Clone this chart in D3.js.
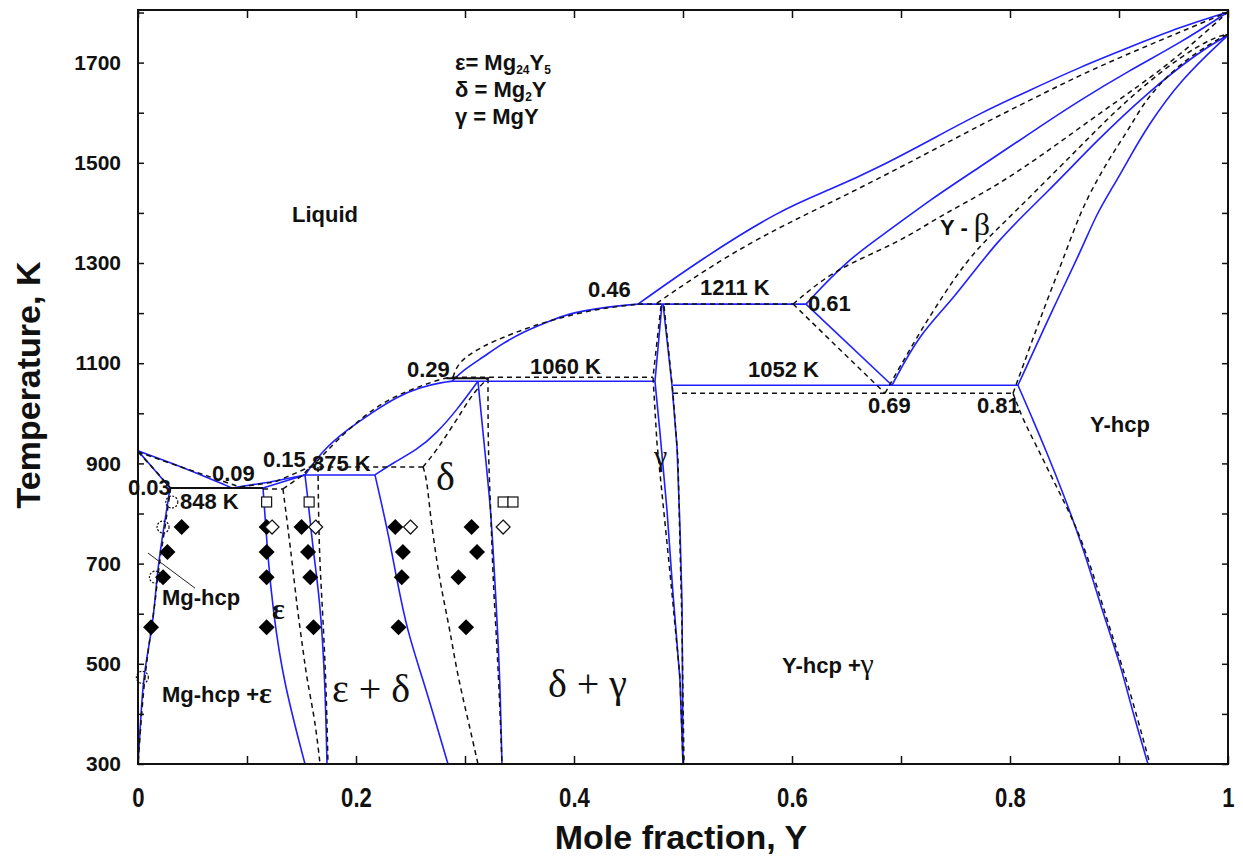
<!DOCTYPE html>
<html>
<head>
<meta charset="utf-8">
<script src="https://cdn.jsdelivr.net/npm/d3@7"></script>
<style>
body { margin: 0; background: #fff; }
text { font-family: "Liberation Sans", Arial, sans-serif; font-weight: bold; fill: #111; }
.serif { font-family: "Liberation Serif", "Times New Roman", serif; font-weight: normal; }
</style>
</head>
<body>
<svg id="chart" width="1243" height="857"></svg>
<script>
//===============================================
//------------------ DATA -----------------------
//===============================================
// [mole fraction Y, temperature K]

// --- solid blue calculation ---
var liqMgBlue      = [[0,925],[0.0431,891],[0.0862,851]];
var liqEpsBlue     = [[0.0862,851],[0.1211,863],[0.1532,877]];
var liqDeltaBlue   = [[0.1532,877],[0.1697,927],[0.1917,967],[0.2156,1003],[0.2376,1033],[0.2587,1052],[0.2798,1062],[0.2881,1064]];
var liqGamBlue     = [[0.2881,1064],[0.2982,1086],[0.3165,1112],[0.3349,1140],[0.3532,1162],[0.3752,1182],[0.3963,1200],[0.4211,1209],[0.4422,1215],[0.4587,1218]];
var liqYBlue       = [[0.4587,1218],[0.5156,1306],[0.589,1406],[0.6349,1446],[0.6807,1492],[0.7266,1545],[0.7725,1599],[0.8183,1645],[0.8642,1691],[0.9101,1731],[0.956,1771],[1,1801]];
var solBetaBlue    = [[0.6128,1218],[0.6505,1306],[0.6899,1366],[0.7266,1426],[0.7725,1492],[0.8183,1559],[0.8642,1625],[0.9101,1685],[0.956,1739],[1,1801]];
var betaHcpBlue    = [[0.6917,1056],[0.7174,1160],[0.7477,1226],[0.7881,1346],[0.8339,1440],[0.8798,1545],[0.9257,1639],[0.9716,1719],[1,1755]];
var hcpBetaBlue    = [[0.8073,1056],[0.8431,1226],[0.8642,1320],[0.8798,1400],[0.8945,1452],[0.9101,1512],[0.9257,1571],[0.956,1665],[1,1755]];
var hcpSolvusBlue  = [[0.8073,1056],[0.8211,987],[0.8339,921],[0.8486,841],[0.867,733],[0.8853,601],[0.9009,502],[0.9128,402],[0.9266,300]];
var betaGamBlue    = [[0.6128,1218],[0.6917,1056]];
var gamLeftBlue    = [[0.4807,1218],[0.4743,1064],[0.4789,961],[0.4853,807],[0.4908,641],[0.4972,468],[0.5,300]];
var gamRightBlue   = [[0.4817,1218],[0.4899,1056],[0.4945,933],[0.4972,773],[0.4991,621],[0.5,300]];
var deltaTopBlue   = [[0.2174,877],[0.2339,901],[0.256,927],[0.2743,961],[0.2927,1007],[0.3119,1064]];
var deltaLeftBlue  = [[0.2174,877],[0.2284,773],[0.2376,667],[0.2468,567],[0.2615,468],[0.2725,388],[0.2844,300]];
var deltaRightBlue = [[0.3119,1064],[0.3165,961],[0.3229,827],[0.3257,733],[0.3294,587],[0.3321,468],[0.3339,300]];
var epsTopBlue     = [[0.1147,851],[0.1532,877]];
var epsLeftBlue    = [[0.1147,851],[0.1193,707],[0.1239,607],[0.133,468],[0.1532,300]];
var epsRightBlue   = [[0.1532,877],[0.156,827],[0.1606,727],[0.167,627],[0.1716,468],[0.1734,300]];
var mgSolidusBlue  = [[0,925],[0.014,890],[0.0294,851]];
var mgSolvusBlue   = [[0.0294,851],[0.0229,761],[0.0183,693],[0.0156,627],[0.0128,567],[0.0046,474],[0.0018,362],[0,300]];
var iso1211Blue    = [[0.4587,1218],[0.6128,1218]];
var iso1060Blue    = [[0.2881,1064],[0.4743,1064]];
var iso1052Blue    = [[0.4908,1056],[0.8073,1056]];
var iso875Blue     = [[0.1514,877],[0.2174,877]];

// --- dashed black calculation ---
var liqMgDash      = [[0,923],[0.0339,897],[0.0661,873],[0.0936,853]];
var liqEpsDash     = [[0.0936,853],[0.1257,863],[0.1578,893]];
var epsTopDash     = [[0.133,849],[0.1514,877],[0.1578,893]];
var liqDeltaDash   = [[0.1578,893],[0.1642,903],[0.1826,947],[0.2064,993],[0.2248,1021],[0.2431,1041],[0.2615,1056],[0.2798,1070],[0.289,1072]];
var liqGamDash     = [[0.289,1072],[0.2936,1102],[0.3138,1132],[0.344,1160],[0.378,1186],[0.4239,1210],[0.4606,1218]];
var liqYDash       = [[0.4761,1220],[0.5339,1306],[0.589,1372],[0.6349,1420],[0.6807,1470],[0.7266,1522],[0.7725,1575],[0.8183,1625],[0.8642,1675],[0.9101,1719],[0.956,1761],[1,1801]];
var solBetaDash    = [[0.601,1218],[0.6128,1240],[0.6422,1290],[0.6972,1340],[0.7358,1394],[0.7817,1446],[0.8275,1512],[0.8734,1585],[0.9193,1655],[0.956,1715],[1,1801]];
var betaHcpDash    = [[0.6853,1040],[0.7128,1146],[0.7358,1226],[0.7606,1306],[0.7844,1360],[0.8092,1412],[0.8339,1466],[0.8642,1532],[0.8945,1599],[0.9257,1659],[0.956,1711],[0.9862,1750],[1,1757]];
var hcpBetaDash    = [[0.8028,1040],[0.8339,1226],[0.8486,1306],[0.8642,1400],[0.8798,1466],[0.8945,1520],[0.9101,1571],[0.9257,1631],[0.956,1699],[0.9899,1746],[1,1757]];
var hcpSolvusDash  = [[0.8028,1040],[0.8119,987],[0.8248,933],[0.8394,867],[0.855,801],[0.8706,721],[0.889,587],[0.9073,468],[0.9284,300]];
var betaGamDash    = [[0.601,1218],[0.6853,1040]];
var gamLeftDash    = [[0.4798,1214],[0.4725,1072],[0.4761,941],[0.4807,841],[0.4881,681],[0.4972,474],[0.5,300]];
var gamRightDash   = [[0.4826,1214],[0.4908,1040],[0.4954,907],[0.4972,741],[0.4991,573],[0.5009,300]];
var deltaTopDash   = [[0.2615,893],[0.2743,927],[0.2862,967],[0.2982,1007],[0.3073,1040],[0.3211,1070]];
var deltaLeftDash  = [[0.2615,893],[0.2651,867],[0.2679,801],[0.2743,701],[0.2798,633],[0.2862,567],[0.2927,482],[0.3028,388],[0.3119,300]];
var deltaRightDash = [[0.3211,1070],[0.3211,927],[0.3239,793],[0.3257,667],[0.3294,534],[0.3321,408],[0.3339,300]];
var epsLeftDash    = [[0.133,849],[0.1413,707],[0.1459,613],[0.1514,528],[0.155,468],[0.1624,388],[0.167,300]];
var epsRightDash   = [[0.1651,893],[0.1661,727],[0.1688,627],[0.1725,468],[0.1743,300]];
var mgSolidusDash  = [[0,923],[0.015,888],[0.03,851]];
var mgSolvusDash   = [[0.03,851],[0.024,761],[0.019,693],[0.016,627],[0.012,567],[0.006,474],[0.002,362],[0,300]];
var iso1211Dash    = [[0.4587,1218],[0.601,1218]];
var iso1060Dash    = [[0.289,1072],[0.4725,1072]];
var iso1052Dash    = [[0.4908,1040],[0.8028,1040]];
var iso891Dash     = [[0.158,893],[0.2615,893]];
var iso848Dash     = [[0.1147,849],[0.133,849]];

// --- thin solid black lines ---
var iso848Solid    = [[0.0294,851],[0.1147,851]];
var iso1060Solid   = [[0.283,1070],[0.3222,1070]];
var mgPointer      = [[0.0092,721],[0.0523,651]];

// --- experimental points ---
var filledDiamonds = [[0.040,773],[0.027,723],[0.023,673],[0.012,573],
	[0.118,773],[0.150,773],[0.118,723],[0.156,723],[0.118,673],[0.158,673],[0.118,573],[0.161,573],
	[0.236,773],[0.243,723],[0.242,673],[0.239,573],
	[0.306,773],[0.311,723],[0.294,673],[0.301,573]];
var openDiamonds   = [[0.123,773],[0.163,773],[0.250,773],[0.335,773]];
var openSquares    = [[0.118,823],[0.157,823],[0.335,823],[0.344,823]];
var openCircles    = [[0.031,823],[0.023,773],[0.016,673],[0.004,473]];

// --- axis ticks ---
var xTicks = [0,0.1,0.2,0.3,0.4,0.5,0.6,0.7,0.8,0.9,1];
var xTickLabels = ['0','','0.2','','0.4','','0.6','','0.8','','1'];
var yTicks = [300,400,500,600,700,800,900,1000,1100,1200,1300,1400,1500,1600,1700,1800];
var yTickLabels = ['300','','500','','700','','900','','1100','','1300','','1500','','1700',''];

// --- labels: [x, T, text] ---
var plainLabels = [
	[0.1413,1382,'Liquid'],
	[0.4128,1232,'0.46'],
	[0.5156,1236,'1211 K'],
	[0.6147,1204,'0.61'],
	[0.2468,1072,'0.29'],
	[0.3596,1078,'1060 K'],
	[0.5596,1072,'1052 K'],
	[0.6697,1001,'0.69'],
	[0.7697,1001,'0.81'],
	[0.8734,963,'Y-hcp'],
	[0.1147,893,'0.15'],
	[0.1596,885,'875 K'],
	[0.0679,865,'0.09'],
	[-0.0092,837,'0.03'],
	[0.0385,809,'848 K'],
	[0.022,617,'Mg-hcp'],
	[0.022,424,'Mg-hcp +'],
	[0.5908,482,'Y-hcp +']
];
// [x, T, text, size, bold]
var greekLabels = [
	[0.2734,847,'δ',40,0],
	[0.4734,895,'γ',30,0],
	[0.1229,589,'ε',30,1],
	[0.1109,421,'ε',30,1],
	[0.178,424,'ε + δ',40,0],
	[0.3761,434,'δ + γ',40,0],
	[0.6628,479,'γ',30,0]
];
var legendRows = [1685, 1631, 1577];

//===============================================
//------------------ DRAW -----------------------
//===============================================
var svg = d3.select('#chart');

var x = d3.scaleLinear().domain([0, 1]).range([138, 1228]);
var y = d3.scaleLinear().domain([300, 1805]).range([764, 10]);

var straight = d3.line()
	.x(function (d) { return x(d[0]); })
	.y(function (d) { return y(d[1]); });
var smooth = d3.line()
	.curve(d3.curveBasis)
	.x(function (d) { return x(d[0]); })
	.y(function (d) { return y(d[1]); });

// curves that are drawn smoothed, the rest are polylines
var smoothSet = [liqMgBlue, liqDeltaBlue, liqGamBlue, liqYBlue, solBetaBlue, betaHcpBlue, hcpBetaBlue, hcpSolvusBlue,
	deltaTopBlue, deltaLeftBlue, deltaRightBlue, epsLeftBlue, epsRightBlue, mgSolvusBlue,
	liqMgDash, liqDeltaDash, liqGamDash, liqYDash, solBetaDash, betaHcpDash, hcpBetaDash, hcpSolvusDash,
	deltaTopDash, deltaLeftDash, deltaRightDash, epsLeftDash, epsRightDash, mgSolvusDash];

function pathOf(d) {
	return smoothSet.indexOf(d) >= 0 ? smooth(d) : straight(d);
}

var plot = svg.append('g');

var blueLines = [liqMgBlue, liqEpsBlue, liqDeltaBlue, liqGamBlue, liqYBlue, solBetaBlue, betaHcpBlue, hcpBetaBlue,
	hcpSolvusBlue, betaGamBlue, gamLeftBlue, gamRightBlue, deltaTopBlue, deltaLeftBlue, deltaRightBlue,
	epsTopBlue, epsLeftBlue, epsRightBlue, mgSolidusBlue, mgSolvusBlue, iso1211Blue, iso1060Blue,
	iso1052Blue, iso875Blue];

var dashLines = [liqMgDash, liqEpsDash, epsTopDash, liqDeltaDash, liqGamDash, liqYDash, solBetaDash,
	betaHcpDash, hcpBetaDash, hcpSolvusDash, betaGamDash, gamLeftDash, gamRightDash, deltaTopDash,
	deltaLeftDash, deltaRightDash, epsLeftDash, epsRightDash, mgSolidusDash, mgSolvusDash,
	iso1211Dash, iso1060Dash, iso1052Dash, iso891Dash, iso848Dash];

var solidLines = [iso848Solid, iso1060Solid];

plot.selectAll('path.blue').data(blueLines).enter().append('path')
	.attr('class', 'blue')
	.attr('d', pathOf)
	.attr('fill', 'none')
	.attr('stroke', '#1f1fff')
	.attr('stroke-width', 1.6);

plot.selectAll('path.dash').data(dashLines).enter().append('path')
	.attr('class', 'dash')
	.attr('d', pathOf)
	.attr('fill', 'none')
	.attr('stroke', '#111')
	.attr('stroke-width', 1.5)
	.attr('stroke-dasharray', '5,4');

plot.selectAll('path.solid').data(solidLines).enter().append('path')
	.attr('class', 'solid')
	.attr('d', straight)
	.attr('fill', 'none')
	.attr('stroke', '#111')
	.attr('stroke-width', 2);

plot.append('path')
	.attr('d', straight(mgPointer))
	.attr('fill', 'none')
	.attr('stroke', '#222')
	.attr('stroke-width', 1);

// markers
function diamond(d, r) {
	var cx = x(d[0]), cy = y(d[1]);
	return 'M' + cx + ',' + (cy - r) + 'L' + (cx + r) + ',' + cy + 'L' + cx + ',' + (cy + r) + 'L' + (cx - r) + ',' + cy + 'Z';
}

plot.selectAll('path.fd').data(filledDiamonds).enter().append('path')
	.attr('class', 'fd')
	.attr('d', function (d) { return diamond(d, 8); })
	.attr('fill', '#000');

plot.selectAll('path.od').data(openDiamonds).enter().append('path')
	.attr('class', 'od')
	.attr('d', function (d) { return diamond(d, 7); })
	.attr('fill', '#fff')
	.attr('stroke', '#111')
	.attr('stroke-width', 1.2);

plot.selectAll('rect.sq').data(openSquares).enter().append('rect')
	.attr('class', 'sq')
	.attr('x', function (d) { return x(d[0]) - 5; })
	.attr('y', function (d) { return y(d[1]) - 5; })
	.attr('width', 10)
	.attr('height', 10)
	.attr('fill', '#fff')
	.attr('stroke', '#111')
	.attr('stroke-width', 1.2);

plot.selectAll('circle.oc').data(openCircles).enter().append('circle')
	.attr('class', 'oc')
	.attr('cx', function (d) { return x(d[0]); })
	.attr('cy', function (d) { return y(d[1]); })
	.attr('r', 6)
	.attr('fill', 'none')
	.attr('stroke', '#111')
	.attr('stroke-width', 1.2)
	.attr('stroke-dasharray', '2,1.5');

// labels
svg.selectAll('text.lab').data(plainLabels).enter().append('text')
	.attr('class', 'lab')
	.attr('x', function (d) { return x(d[0]); })
	.attr('y', function (d) { return y(d[1]); })
	.style('font-size', '22px')
	.text(function (d) { return d[2]; });

svg.selectAll('text.greek').data(greekLabels).enter().append('text')
	.attr('class', 'greek serif')
	.attr('x', function (d) { return x(d[0]); })
	.attr('y', function (d) { return y(d[1]); })
	.style('font-size', function (d) { return d[3] + 'px'; })
	.style('font-weight', function (d) { return d[4] ? 'bold' : 'normal'; })
	.text(function (d) { return d[2]; });

// Y - beta label
var yb = svg.append('text')
	.attr('x', x(0.7358))
	.attr('y', y(1356))
	.style('font-size', '22px');
yb.append('tspan').text('Y - ');
yb.append('tspan').attr('class', 'serif').style('font-size', '32px').text('β');

// phase legend
var legend = [
	[['ε= Mg'], ['24', 'sub'], ['Y'], ['5', 'sub']],
	[['δ = Mg'], ['2', 'sub'], ['Y']],
	[['γ = MgY']]
];
legend.forEach(function (row, i) {
	var t = svg.append('text')
		.attr('x', x(0.2908))
		.attr('y', y(legendRows[i]))
		.style('font-size', '22px');
	row.forEach(function (p, j) {
		var s = t.append('tspan').text(p[0]);
		if (p[1] == 'sub') { s.attr('dy', 4).style('font-size', '12px'); }
		else if (j > 0) { s.attr('dy', -4); }
	});
});

// frame
svg.append('rect')
	.attr('x', x(0))
	.attr('y', y(1805))
	.attr('width', x(1) - x(0))
	.attr('height', y(300) - y(1805))
	.attr('fill', 'none')
	.attr('stroke', '#111')
	.attr('stroke-width', 2);

// axes with inward ticks
var xAxis = d3.axisBottom(x).tickValues(xTicks).tickSize(-8).tickPadding(24)
	.tickFormat(function (d, i) { return xTickLabels[i]; });
var xAxisTop = d3.axisTop(x).tickValues(xTicks).tickSize(-8).tickFormat('');
var yAxis = d3.axisLeft(y).tickValues(yTicks).tickSize(-6).tickPadding(17)
	.tickFormat(function (d, i) { return yTickLabels[i]; });
var yAxisRight = d3.axisRight(y).tickValues(yTicks).tickSize(-6).tickFormat('');

var gx = svg.append('g').attr('transform', 'translate(0,' + y(300) + ')').call(xAxis);
var gxt = svg.append('g').attr('transform', 'translate(0,' + y(1805) + ')').call(xAxisTop);
var gy = svg.append('g').attr('transform', 'translate(' + x(0) + ',0)').call(yAxis);
var gyr = svg.append('g').attr('transform', 'translate(' + x(1) + ',0)').call(yAxisRight);

[gx, gxt, gy, gyr].forEach(function (g) {
	g.select('.domain').remove();
	g.selectAll('.tick line').attr('stroke', '#111').attr('stroke-width', 1.5);
	g.selectAll('.tick text').attr('fill', '#111');
});
// condensed-looking x tick labels
gx.selectAll('.tick text')
	.style('font-family', '"Liberation Sans", Arial, sans-serif')
	.style('font-weight', 'bold')
	.style('font-size', '27px')
	.attr('transform', 'scale(0.82,1)');
gy.selectAll('.tick text')
	.style('font-family', '"Liberation Sans", Arial, sans-serif')
	.style('font-weight', 'bold')
	.style('font-size', '21px');

// axis titles
svg.append('text')
	.attr('x', 681)
	.attr('y', 849)
	.attr('text-anchor', 'middle')
	.style('font-size', '34px')
	.text('Mole fraction, Y');

svg.append('text')
	.attr('transform', 'translate(40,385) rotate(-90)')
	.attr('text-anchor', 'middle')
	.style('font-size', '34px')
	.text('Temperature, K');
</script>
</body>
</html>
